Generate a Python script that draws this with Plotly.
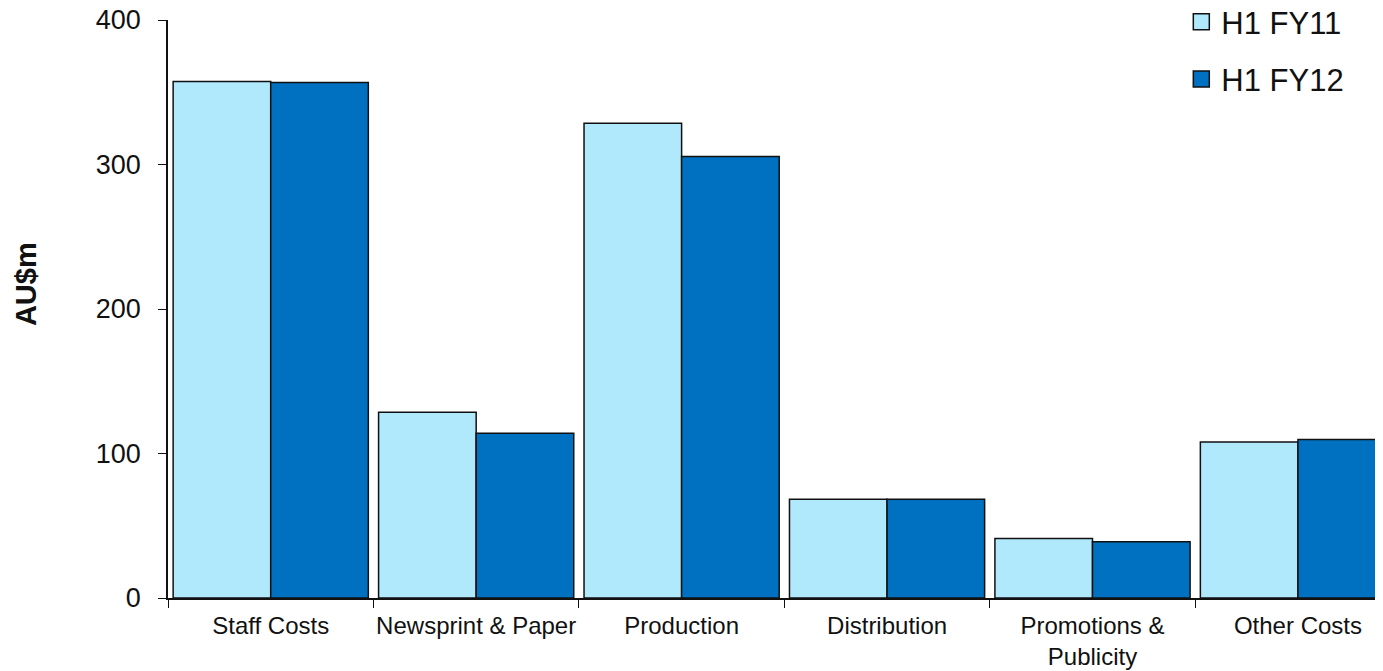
import plotly.graph_objects as go

categories = ["Staff Costs", "Newsprint & Paper", "Production", "Distribution",
              "Promotions &<br>Publicity", "Other Costs"]
fy11 = [357.5, 128.6, 328.5, 68.3, 41.2, 107.9]
fy12 = [356.8, 114.1, 305.5, 68.3, 38.9, 109.7]
series_names = ["H1 FY11", "H1 FY12"]
colors = ["#B0E9FC", "#0070C0"]
y_ticks = [0, 100, 200, 300, 400]

FONT = "Liberation Sans, Arial, sans-serif"
EDGE = "#111111"

fig = go.Figure()
for vals, name, col, grp in zip([fy11, fy12], series_names, colors, ["a", "b"]):
    fig.add_trace(go.Bar(x=categories, y=vals, name=name, legendgroup=grp, showlegend=False,
                         marker=dict(color=col, line=dict(color=EDGE, width=1.5))))
# legend entries with larger square symbols
for name, col, grp in zip(series_names, colors, ["a", "b"]):
    fig.add_trace(go.Scatter(x=[None], y=[None], mode="markers", name=name, legendgroup=grp,
                             marker=dict(symbol="square", size=17, color=col,
                                         line=dict(color=EDGE, width=1.5))))

fig.update_layout(
    width=1375, height=663,
    paper_bgcolor="white", plot_bgcolor="white",
    margin=dict(l=160, r=0, t=12, b=73, autoexpand=False),
    barmode="group", bargap=0.05, bargroupgap=0,
    font=dict(family=FONT, color="#111111"),
    legend=dict(x=0.834, y=1.043, xanchor="left", yanchor="top",
                font=dict(size=31, family=FONT), tracegroupgap=14,
                traceorder="grouped", bgcolor="rgba(0,0,0,0)", itemwidth=30),
    xaxis=dict(range=[-0.5, 5.414], showline=True, linecolor=EDGE, linewidth=1.5,
               ticks="outside", tickson="boundaries", ticklen=8, tickcolor=EDGE,
               tickangle=0, automargin=False, ticklabelstandoff=5,
               ticklabeloverflow="allow",
               tickfont=dict(size=24, family=FONT), showgrid=False),
    yaxis=dict(range=[0, 400], tickvals=y_ticks, showline=True, linecolor=EDGE,
               linewidth=1.5, ticks="outside", ticklen=8, tickcolor=EDGE,
               ticklabelstandoff=12, automargin=False, ticklabeloverflow="allow",
               tickfont=dict(size=27, family=FONT), showgrid=False, zeroline=False),
    annotations=[dict(text="<b>AU$m</b>", xref="paper", yref="paper", x=-0.1169, y=0.543,
                      xanchor="center", yanchor="middle", textangle=-90, showarrow=False,
                      font=dict(size=29, family=FONT, color="#111111"))],
)

fig.write_html("out.html")
